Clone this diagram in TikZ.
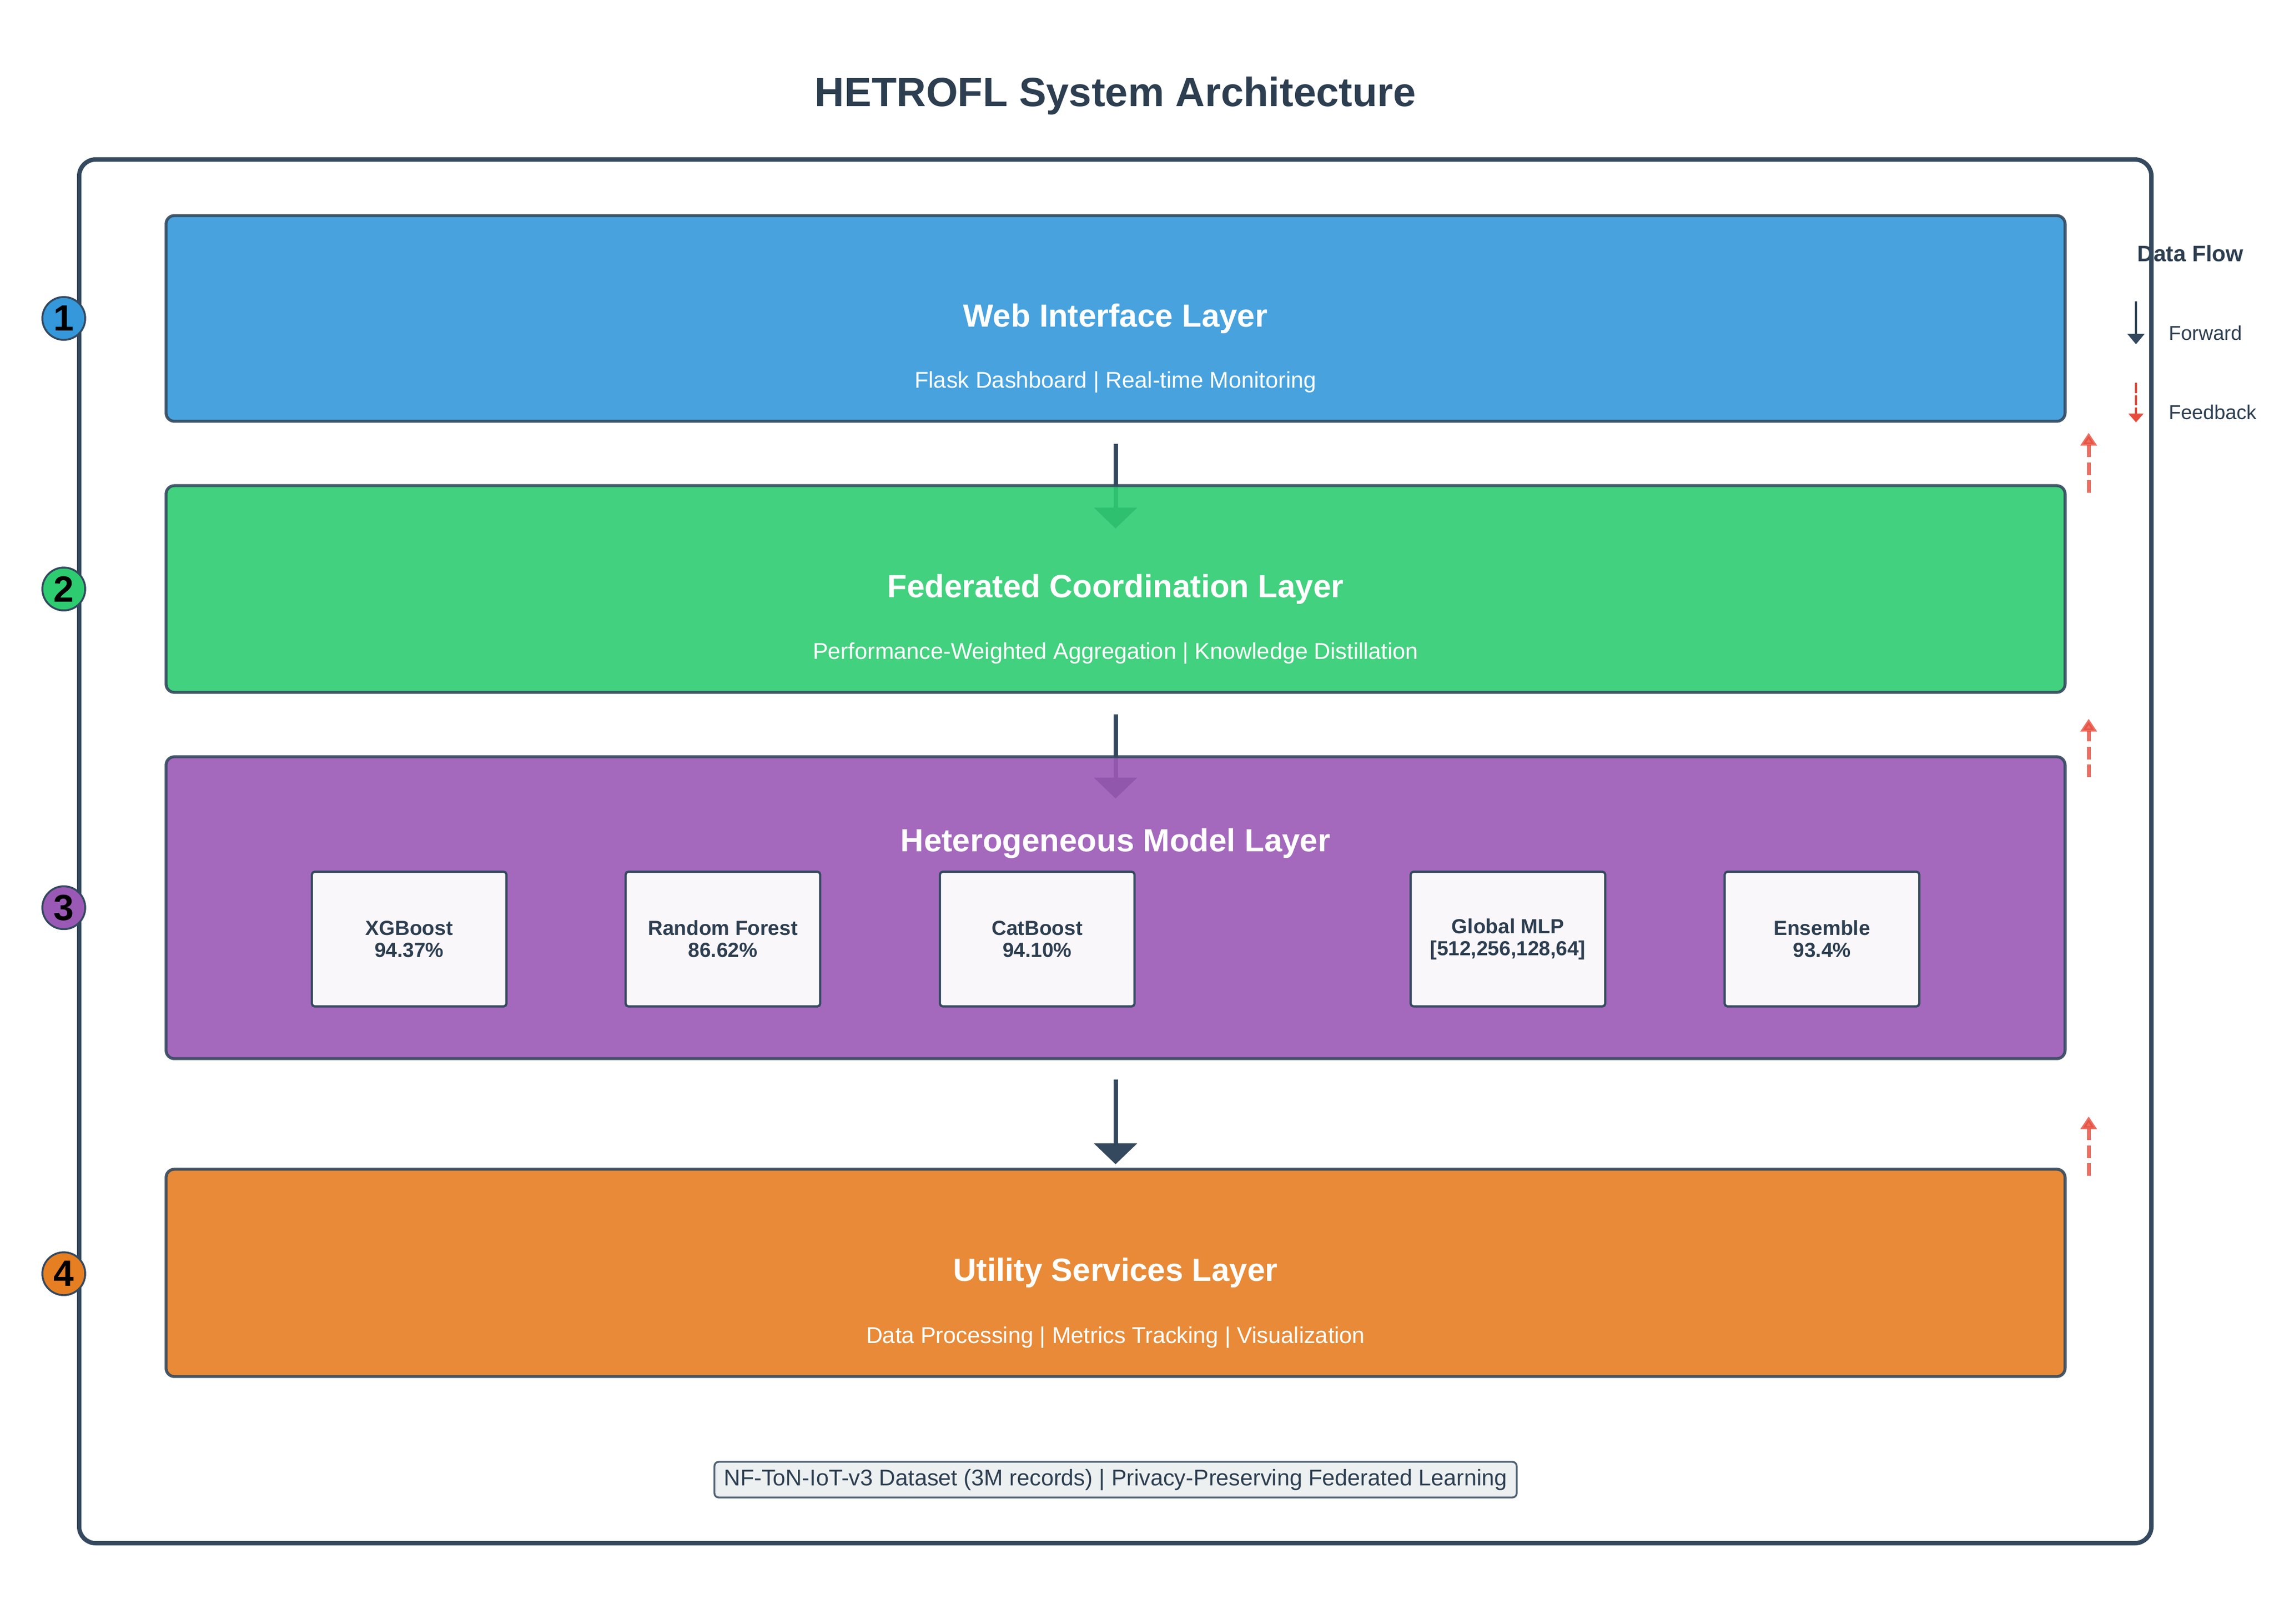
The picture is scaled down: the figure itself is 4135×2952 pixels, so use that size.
\documentclass[tikz,border=0pt]{standalone}
\usepackage{fontspec}
\setmainfont{Liberation Sans}
\usetikzlibrary{arrows.meta}
\definecolor{dark}{HTML}{34495E}
\definecolor{ink}{HTML}{2C3E50}
\definecolor{cblue}{HTML}{3498DB}
\definecolor{cgreen}{HTML}{2ECC71}
\definecolor{cpurple}{HTML}{9B59B6}
\definecolor{corange}{HTML}{E67E22}
\definecolor{cred}{HTML}{E74C3C}
\definecolor{cfoot}{HTML}{ECF0F1}
\newcommand{\fsz}[2]{\fontsize{#1}{#2}\selectfont}
\begin{document}
\begin{tikzpicture}[x=0.3772pt, y=-0.3772pt,
  layerbox/.style={draw=dark, line width=2pt, rounded corners=5.7pt, minimum width=1302.5pt, inner sep=0pt, outer sep=0pt, fill opacity=0.9, draw opacity=0.9},
  layertitle/.style={anchor=base, inner sep=0pt, text=white, font=\fsz{22}{26}\bfseries},
  layersub/.style={anchor=base, inner sep=0pt, text=white, font=\fsz{15.65}{19}},
  modelbox/.style={draw=dark, line width=1.5pt, fill=white, fill opacity=0.95, text opacity=1, rounded corners=2pt, minimum width=133.5pt, minimum height=92.4pt, align=center, text=ink, font=\fsz{14}{15.1}\bfseries, inner sep=0pt},
  num/.style={circle, draw=dark, line width=1.3pt, minimum size=29.4pt, inner sep=0pt, font=\fsz{25}{25}\bfseries, text=black},
  flow/.style={draw=dark, line width=3pt, -{Triangle[width=29pt, length=14.3pt]}},
  feedback/.style={draw=cred, fill=cred, opacity=0.8, line width=2.6pt, dash pattern=on 8.7pt off 3.5pt, -{Triangle[width=11pt,length=8.8pt]}},
  legtext/.style={anchor=base west, inner sep=0pt, text=ink, font=\fsz{13.7}{16}},
]
% page
\fill[white] (0,0) rectangle (4135,2952);
\path[use as bounding box] (0,0) rectangle (4135,2952);

% title
\node[anchor=base, inner sep=0pt, font=\fsz{28}{32}\bfseries, text=ink] (title) at (2028.5,193) {HETROFL System Architecture};

% legend
\node[anchor=base, inner sep=0pt, font=\fsz{15.4}{18}\bfseries, text=ink] (legT) at (3983,475) {Data Flow};
\coordinate (lf1) at (3884,548);
\coordinate (lf2) at (3884,626);
\draw[draw=dark, line width=1.25pt, -{Triangle[width=11.7pt,length=7.2pt]}] (lf1) -- (lf2);
\node[legtext] (legF) at (3943,618) {Forward};
\coordinate (lb1) at (3884,696);
\coordinate (lb2) at (3884,768);
\draw[draw=cred, fill=cred, line width=1.5pt, dash pattern=on 7pt off 1.5pt, -{Triangle[width=10pt,length=6pt]}] (lb1) -- (lb2);
\node[legtext] (legB) at (3943,762) {Feedback};

% outer frame
\draw[dark, line width=3pt, rounded corners=11.3pt] (144,290) rectangle (3912,2806);

% forward arrows (under the translucent layers)
\coordinate (a1s) at (2028.5,807);
\coordinate (a1e) at (2028.5,961);
\coordinate (a2s) at (2028.5,1299);
\coordinate (a2e) at (2028.5,1452);
\coordinate (a3s) at (2028.5,1963);
\coordinate (a3e) at (2028.5,2117);
\draw[flow] (a1s) -- (a1e);
\draw[flow] (a2s) -- (a2e);
\draw[flow] (a3s) -- (a3e);

% layers
\node[layerbox, fill=cblue, minimum height=141.1pt] (web) at (2028.5,579) {};
\node[layertitle] (webT) at (2028.5,594) {Web Interface Layer};
\node[layersub] (webS) at (2028.5,705) {Flask Dashboard | Real-time Monitoring};

\node[layerbox, fill=cgreen, minimum height=141.8pt] (fed) at (2028.5,1071) {};
\node[layertitle] (fedT) at (2028.5,1086) {Federated Coordination Layer};
\node[layersub] (fedS) at (2028.5,1198) {Performance-Weighted Aggregation | Knowledge Distillation};

\node[layerbox, fill=cpurple, minimum height=207.1pt] (het) at (2028.5,1650.5) {};
\node[layertitle] (hetT) at (2028.5,1548) {Heterogeneous Model Layer};

\node[layerbox, fill=corange, minimum height=142.2pt] (util) at (2028.5,2314.5) {};
\node[layertitle] (utilT) at (2028.5,2329) {Utility Services Layer};
\node[layersub] (utilS) at (2028.5,2442) {Data Processing | Metrics Tracking | Visualization};

% model boxes
\node[modelbox] (m1) at (744,1707.5) {XGBoost\\94.37\%};
\node[modelbox] (m2) at (1314.5,1707.5) {Random Forest\\86.62\%};
\node[modelbox] (m3) at (1886,1707.5) {CatBoost\\94.10\%};
\node[modelbox] (m4) at (2742,1707.5) {Global MLP\\{[512,256,128,64]}};
\node[modelbox] (m5) at (3313,1707.5) {Ensemble\\93.4\%};

% number badges
\node[num, fill=cblue] (n1) at (116,579) {1};
\node[num, fill=cgreen] (n2) at (116,1071) {2};
\node[num, fill=cpurple] (n3) at (116,1650.5) {3};
\node[num, fill=corange] (n4) at (116,2316) {4};

% feedback arrows
\coordinate (f1s) at (3798,896);
\coordinate (f1e) at (3798,787);
\coordinate (f2s) at (3798,1413);
\coordinate (f2e) at (3798,1307);
\coordinate (f3s) at (3798,2138);
\coordinate (f3e) at (3798,2030);
\draw[feedback] (f1s) -- (f1e);
\draw[feedback] (f2s) -- (f2e);
\draw[feedback] (f3s) -- (f3e);

% footer
\node[draw=dark, draw opacity=0.85, line width=1.25pt, fill=cfoot, rounded corners=3pt, minimum width=550.3pt, minimum height=24.5pt, inner sep=0pt, font=\fsz{15.6}{18}, text=ink] (foot) at (2028.5,2690.5) {NF-ToN-IoT-v3 Dataset (3M records) | Privacy-Preserving Federated Learning};
\end{tikzpicture}
\end{document}
